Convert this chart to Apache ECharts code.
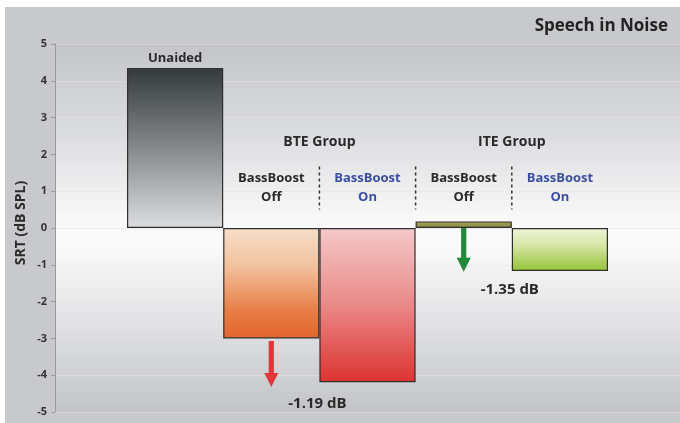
<!DOCTYPE html>
<html>
<head>
<meta charset="utf-8">
<script src="https://cdn.jsdelivr.net/npm/echarts@6/dist/echarts.min.js"></script>
<style>html,body{margin:0;padding:0;background:#fff}#c{width:680px;height:423px}</style>
</head>
<body>
<div id="c"></div>
<script>
// ---- data ----
const categories = ['Unaided', 'BTE BassBoost Off', 'BTE BassBoost On', 'ITE BassBoost Off', 'ITE BassBoost On'];
const srtValues = [4.35, -3.0, -4.19, 0.18, -1.17];
const yMin = -5, yMax = 5, yInterval = 1;
const barLabelTop = ['Unaided'];
const groupLabels = ['BTE Group', 'ITE Group'];
const conditionLabels = ['BassBoost\nOff', 'BassBoost\nOn', 'BassBoost\nOff', 'BassBoost\nOn'];
const diffLabels = ['-1.19 dB', '-1.35 dB'];
const diffFrom = [-3.07, 0.0];
const diffTo = [-4.32, -1.19];

const FONT = '"Open Sans", "Noto Sans", sans-serif';
function grad(stops) {
  return { type: 'linear', x: 0, y: 0, x2: 0, y2: 1, colorStops: stops.map(s => ({ offset: s[0], color: s[1] })) };
}
const barColors = [
  grad([[0, '#343a3c'], [0.45, '#7d8183'], [1, '#dcdddf']]),
  grad([[0, '#f6dfca'], [0.35, '#f2c19d'], [0.75, '#e87e47'], [1, '#e3642b']]),
  grad([[0, '#f5c9c9'], [0.5, '#ea8888'], [1, '#dc3330']]),
  grad([[0, '#a9a75c'], [1, '#84833a']]),
  grad([[0, '#eef4d9'], [0.35, '#dbe8ad'], [1, '#94c33a']])
];

const chart = echarts.init(document.getElementById('c'), null, { renderer: 'canvas' });
const option = {
  backgroundColor: '#c8c9cc',
  animation: false,
  title: {
    text: 'Speech in Noise', right: 7, top: 13,
    textStyle: { fontFamily: FONT, fontSize: 17, fontWeight: 'bold', color: '#222' }
  },
  grid: [
    { left: 55, right: 0, top: 44, bottom: 11, show: true, borderWidth: 0,
      backgroundColor: grad([[0, '#c4c5c9'], [0.25, '#dcdde0'], [0.47, '#f8f8f8'], [0.55, '#fafafa'], [0.78, '#dedfe1'], [1, '#c3c4c8']]) },
    { left: 127, right: 72, top: 44, bottom: 11 }
  ],
  xAxis: [
    { gridIndex: 0, type: 'value', min: 0, max: 1, show: false },
    { gridIndex: 1, type: 'category', data: categories, show: false }
  ],
  yAxis: [
    { gridIndex: 0, type: 'value', min: yMin, max: yMax, interval: yInterval,
      name: 'SRT (dB SPL)', nameLocation: 'middle', nameGap: 27, nameMoveOverlap: false,
      nameTextStyle: { fontFamily: FONT, fontSize: 14, fontWeight: 'bold', color: '#2a2a2a', padding: [0, 0, 0, 10] },
      axisLine: { show: true, lineStyle: { color: '#9a9a9c', width: 1 } },
      axisTick: { show: true, length: 4, lineStyle: { color: '#9a9a9c' } },
      axisLabel: { margin: 8, fontFamily: FONT, fontSize: 11, fontWeight: 'bold', color: '#333' },
      splitLine: { show: true, lineStyle: { color: '#e4e4e6', type: 'dotted', width: 1 } }
    },
    { gridIndex: 1, type: 'value', min: yMin, max: yMax, interval: yInterval, show: false, splitLine: { show: false } }
  ],
  series: [{
    type: 'bar', xAxisIndex: 1, yAxisIndex: 1, barCategoryGap: '0%',
    data: srtValues.map((v, i) => ({ value: v, itemStyle: { color: barColors[i] } })),
    itemStyle: { borderColor: '#2e2e2e', borderWidth: 1.2 }
  }]
};
chart.setOption(option);

function px(cat, val) { return chart.convertToPixel({ gridIndex: 1 }, [cat, val]); }
const textBase = { fontFamily: FONT, fontWeight: 'bold', align: 'center', verticalAlign: 'middle', textAlign: 'center', textVerticalAlign: 'middle' };
const g = [];
g.push({ type: 'rect', shape: { x: 0, y: 0, width: 680, height: 7 }, style: { fill: '#ffffff' }, z: 100 });
g.push({ type: 'rect', shape: { x: 0, y: 0, width: 5, height: 423 }, style: { fill: '#ffffff' }, z: 100 });

// Unaided label above bar
let p = px(0, srtValues[0]);
g.push({ type: 'text', x: p[0], y: p[1] - 10, style: Object.assign({ text: barLabelTop[0], fontSize: 13, fill: '#2a2a2a' }, textBase), z: 50 });

// group labels at boundaries
const boundary = (i) => (px(i, 0)[0] + px(i + 1, 0)[0]) / 2;
[1, 3].forEach((ci, k) => {
  const x = boundary(ci);
  const y = px(0, 2.34)[1];
  g.push({ type: 'text', x, y, style: Object.assign({ text: groupLabels[k], fontSize: 14, fill: '#2a2a2a' }, textBase), z: 50 });
});
// condition labels
[1, 2, 3, 4].forEach((ci, k) => {
  const x = px(ci, 0)[0];
  const y = px(0, 1.09)[1];
  g.push({ type: 'text', x, y, style: Object.assign({ text: conditionLabels[k], fontSize: 13, lineHeight: 19, fill: (k % 2 ? '#3a4ea2' : '#2a2a2a') }, textBase), z: 50 });
});
// dashed separators
[1, 2, 3].forEach(ci => {
  const x = boundary(ci);
  const y1 = px(0, 1.67)[1], y2 = px(0, 0.5)[1];
  g.push({ type: 'line', shape: { x1: x, y1, x2: x, y2 }, style: { stroke: '#333', lineWidth: 1.5, lineDash: [3, 3] }, z: 50 });
});
// arrows
const arrowCats = [1, 3];
const arrowColors = ['#e0383a', '#23893a'];
arrowCats.forEach((ci, k) => {
  const a = px(ci, diffFrom[k]), b = px(ci, diffTo[k]);
  const cx = a[0], y0 = a[1], tip = b[1];
  const hw = 2.6, hh = 14, hwid = 7;
  g.push({ type: 'polygon', shape: { points: [[cx - hw, y0], [cx + hw, y0], [cx + hw, tip - hh], [cx + hwid, tip - hh], [cx, tip], [cx - hwid, tip - hh], [cx - hw, tip - hh]] },
    style: { fill: arrowColors[k] }, z: 50 });
});
// diff labels
const diffLabelCats = [1, 3];
const diffLabelVals = [-4.77, -1.68];
diffLabelCats.forEach((ci, k) => {
  const x = boundary(ci) - 2;
  const y = px(0, diffLabelVals[k])[1];
  g.push({ type: 'text', x, y, style: Object.assign({ text: diffLabels[k], fontSize: 15, fill: '#2a2a2a' }, textBase), z: 50 });
});
chart.setOption({ graphic: g });
</script>
</body>
</html>
